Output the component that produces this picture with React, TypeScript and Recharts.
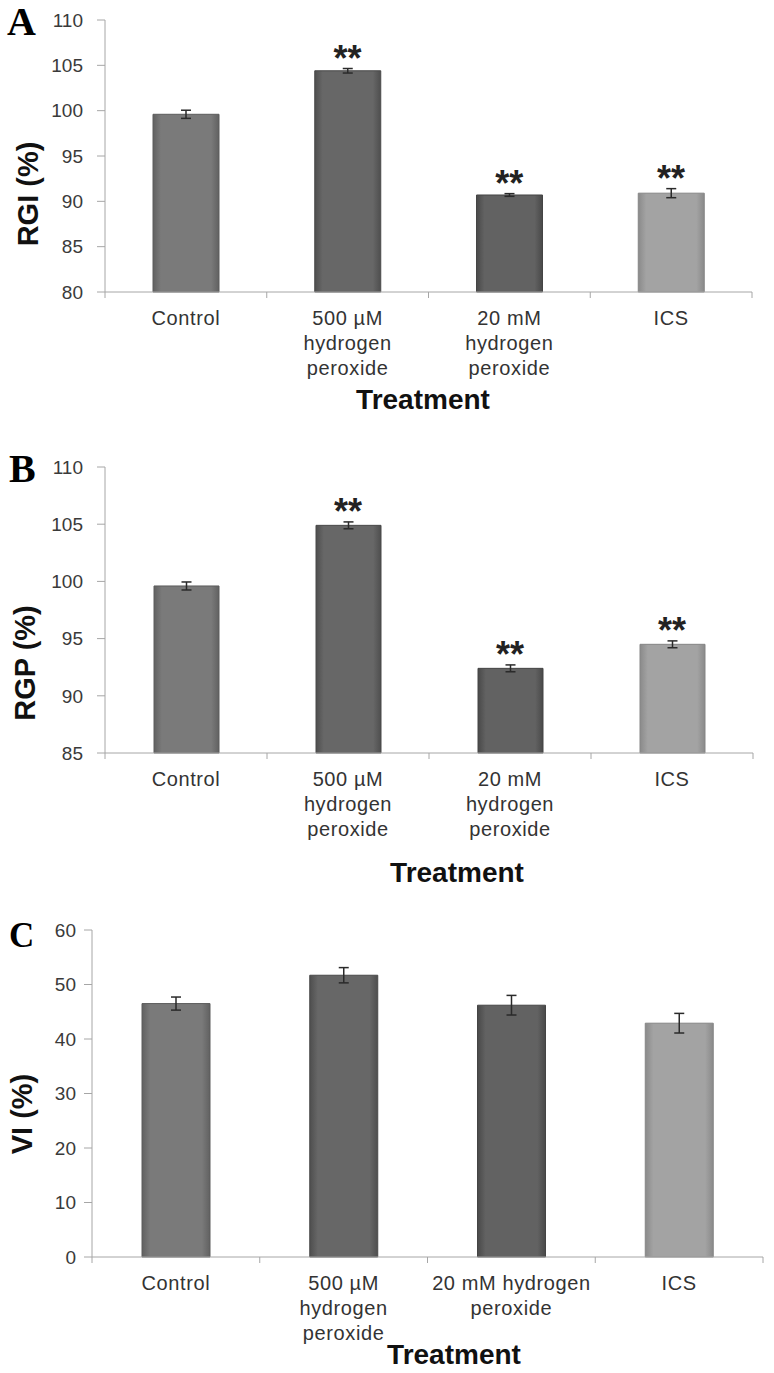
import React from "react";
import { ComposedChart, Bar, Line, XAxis, YAxis, ErrorBar, Cell } from "recharts";

const categories = ["Control", "500 µM hydrogen peroxide", "20 mM hydrogen peroxide", "ICS"];
const labelsAB = [["Control"], ["500 µM", "hydrogen", "peroxide"], ["20 mM", "hydrogen", "peroxide"], ["ICS"]];
const labelsC = [["Control"], ["500 µM", "hydrogen", "peroxide"], ["20 mM hydrogen", "peroxide"], ["ICS"]];

const rgiMean = [99.6, 104.4, 90.7, 90.9];
const rgiErr = [0.45, 0.25, 0.15, 0.5];
const rgiSig = [false, true, true, true];
const rgiTicks = [80, 85, 90, 95, 100, 105, 110];

const rgpMean = [99.6, 104.9, 92.4, 94.5];
const rgpErr = [0.35, 0.3, 0.3, 0.3];
const rgpSig = [false, true, true, true];
const rgpTicks = [85, 90, 95, 100, 105, 110];

const viMean = [46.5, 51.7, 46.2, 42.9];
const viErr = [1.2, 1.4, 1.8, 1.8];
const viSig = [false, false, false, false];
const viTicks = [0, 10, 20, 30, 40, 50, 60];

const barColors = ["#7a7a7a", "#676767", "#626262", "#a3a3a3"];

const FONT = "'Liberation Sans', Arial, sans-serif";

const build = (mean: number[], err: number[], sig: boolean[]) =>
  categories.map((name, i) => ({
    name,
    mean: mean[i],
    err: err[i],
    star: sig[i] ? mean[i] + err[i] : null,
  }));

const shade = (hex: string, amt: number) => {
  const n = parseInt(hex.slice(1), 16);
  const c = (v: number) => Math.max(0, Math.min(255, Math.round(v + amt)));
  const r = c((n >> 16) & 255), g = c((n >> 8) & 255), b = c(n & 255);
  return `rgb(${r},${g},${b})`;
};

const StarDot = (props: any) => {
  const { cx, cy, payload, index } = props;
  if (!payload || payload.star == null || cy == null) return <g key={`s${index}`} />;
  return (
    <text key={`s${index}`} x={cx} y={cy + 2} textAnchor="middle" fontSize={36}
      fontWeight="bold" fill="#222" fontFamily={FONT}>
      **
    </text>
  );
};

const CategoryTick = (props: any) => {
  const { x, y, payload, labels } = props;
  const half = payload.offset ?? 0;
  const lines: string[] = labels[payload.index] ?? [payload.value];
  return (
    <g>
      {payload.index === 0 && half > 0 && (
        <line x1={x - half} x2={x - half} y1={y} y2={y + 6} stroke="#a6a6a6" />
      )}
      {half > 0 && <line x1={x + half} x2={x + half} y1={y} y2={y + 6} stroke="#a6a6a6" />}
      <text x={x} y={y + 33} textAnchor="middle" fontSize={20} fill="#333"
        fontFamily={FONT} letterSpacing={0.6}>
        {lines.map((l, i) => (
          <tspan key={i} x={x} dy={i === 0 ? 0 : 25}>{l}</tspan>
        ))}
      </text>
    </g>
  );
};

type PanelProps = {
  id: string;
  top: number;
  height: number;
  margin: { top: number; right: number; bottom: number; left: number };
  data: any[];
  domain: [number, number];
  ticks: number[];
  labels: string[][];
  barSize: number;
  tickMargin: number;
};

const Panel = ({ id, top, height, margin, data, domain, ticks, labels, barSize, tickMargin }: PanelProps) => (
  <div style={{ position: "absolute", left: 0, top }}>
    <ComposedChart width={774} height={height} data={data} margin={margin}>
      <defs>
        {barColors.map((c, i) => (
          <linearGradient key={i} id={`${id}-g${i}`} x1="0" y1="0" x2="1" y2="0">
            <stop offset="0%" stopColor={shade(c, -25)} />
            <stop offset="12%" stopColor={c} />
            <stop offset="88%" stopColor={c} />
            <stop offset="100%" stopColor={shade(c, -25)} />
          </linearGradient>
        ))}
      </defs>
      <XAxis dataKey="name" height={100} tickSize={0} tickMargin={0}
        axisLine={{ stroke: "#a6a6a6" }} tickLine={false} interval={0}
        tick={(p: any) => <CategoryTick {...p} labels={labels} />} />
      <YAxis domain={domain} ticks={ticks} width={60} tickSize={8} tickMargin={tickMargin}
        axisLine={{ stroke: "#a6a6a6" }} tickLine={{ stroke: "#a6a6a6" }}
        tick={{ fill: "#3a3a3a", fontSize: 19, fontFamily: FONT }} />
      <Bar dataKey="mean" barSize={barSize} isAnimationActive={false}>
        {data.map((_, i) => (
          <Cell key={i} fill={`url(#${id}-g${i})`} stroke={shade(barColors[i], -30)} strokeWidth={1} />
        ))}
        <ErrorBar dataKey="err" width={5} stroke="#2a2a2a" strokeWidth={1.5} direction="y" />
      </Bar>
      <Line dataKey="star" stroke="none" dot={StarDot} activeDot={false}
        isAnimationActive={false} connectNulls={false} />
    </ComposedChart>
  </div>
);

const abs = (style: React.CSSProperties): React.CSSProperties => ({ position: "absolute", ...style });

const YTitle = ({ text, x, y }: { text: string; x: number; y: number }) => (
  <div style={abs({ left: x, top: y, transform: "translate(-50%, -50%) rotate(-90deg)", fontFamily: FONT,
    fontWeight: "bold", fontSize: 29, color: "#111", whiteSpace: "nowrap" })}>{text}</div>
);

const XTitle = ({ x, y }: { x: number; y: number }) => (
  <div style={abs({ left: x, top: y, transform: "translate(-50%, -50%)", fontFamily: FONT,
    fontWeight: "bold", fontSize: 28, color: "#111", whiteSpace: "nowrap" })}>Treatment</div>
);

const Letter = ({ text, x, y, size }: { text: string; x: number; y: number; size: number }) => (
  <div style={abs({ left: x, top: y, fontFamily: "'Liberation Serif', 'Times New Roman', serif",
    fontWeight: "bold", fontSize: size, lineHeight: 1, color: "#000" })}>{text}</div>
);

export default function App() {
  return (
    <div style={{ position: "absolute", left: 0, top: 0, width: 774, height: 1373, background: "#fff" }}>
      <Panel id="a" top={0} height={440} margin={{ top: 20, right: 22, bottom: 48, left: 45 }}
        data={build(rgiMean, rgiErr, rgiSig)} domain={[80, 110]} ticks={rgiTicks}
        labels={labelsAB} barSize={66} tickMargin={14} />
      <Panel id="b" top={440} height={440} margin={{ top: 27, right: 21, bottom: 27, left: 45 }}
        data={build(rgpMean, rgpErr, rgpSig)} domain={[85, 110]} ticks={rgpTicks}
        labels={labelsAB} barSize={65} tickMargin={14} />
      <Panel id="c" top={880} height={493} margin={{ top: 50, right: 11, bottom: 16, left: 32 }}
        data={build(viMean, viErr, viSig)} domain={[0, 60]} ticks={viTicks}
        labels={labelsC} barSize={68} tickMargin={8} />

      <Letter text="A" x={7} y={2} size={40} />
      <Letter text="B" x={9} y={449} size={40} />
      <Letter text="C" x={9} y={918} size={35} />

      <YTitle text="RGI (%)" x={28} y={194} />
      <YTitle text="RGP (%)" x={25} y={663} />
      <YTitle text="VI (%)" x={22} y={1114} />

      <XTitle x={423} y={400} />
      <XTitle x={457} y={873} />
      <XTitle x={454} y={1355} />
    </div>
  );
}
